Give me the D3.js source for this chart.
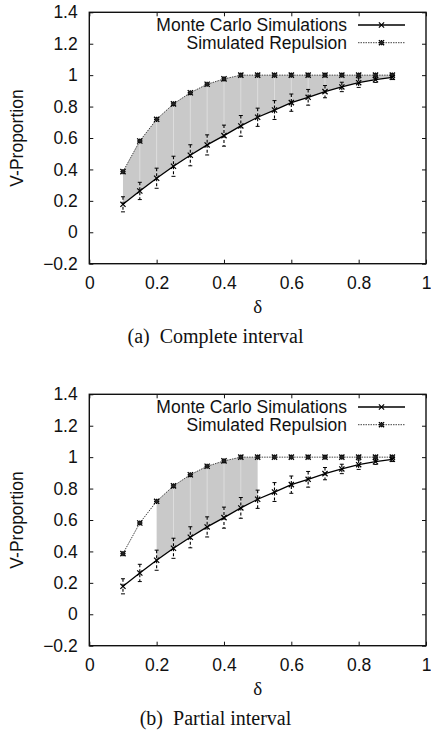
<!DOCTYPE html>
<html>
<head>
<meta charset="utf-8">
<script src="https://cdn.jsdelivr.net/npm/d3@7"></script>
<style>
  body { margin: 0; background: #fff; }
  svg { display: block; }
  .tick text { font-family: "Liberation Sans", Arial, sans-serif; font-size: 17.5px; fill: #111; }
</style>
</head>
<body>
<div id="chart"></div>
<script>
// data
var delta = [0.1, 0.15, 0.2, 0.25, 0.3, 0.35, 0.4, 0.45, 0.5, 0.55, 0.6, 0.65, 0.7, 0.75, 0.8, 0.85, 0.9];
var monteCarlo = [0.178, 0.263, 0.344, 0.42, 0.49, 0.556, 0.615, 0.677, 0.732, 0.778, 0.825, 0.859, 0.895, 0.925, 0.952, 0.971, 0.986];
var monteCarloErr = [0.048, 0.055, 0.064, 0.064, 0.067, 0.064, 0.067, 0.066, 0.058, 0.06, 0.055, 0.05, 0.039, 0.03, 0.03, 0.017, 0.014];
var repulsion = [0.386, 0.581, 0.719, 0.817, 0.888, 0.942, 0.976, 1, 1, 1, 1, 1, 1, 1, 1, 1, 1];
var xTicks = [0, 0.2, 0.4, 0.6, 0.8, 1];
var yTicks = [-0.2, 0, 0.2, 0.4, 0.6, 0.8, 1, 1.2, 1.4];
var seriesNames = ["Monte Carlo Simulations", "Simulated Repulsion"];
var panels = [
    {top: 12.3, caption: "(a)\u2002Complete interval", from: 0.1, to: 0.9},
    {top: 394.3, caption: "(b)\u2002Partial interval", from: 0.2, to: 0.5}
];

var width = 431, height = 743;
var plotLeft = 89.3, plotRight = 426, plotH = 251.4;
var sans = "'Liberation Sans', Arial, sans-serif";
var serif = "'Liberation Serif', 'Times New Roman', serif";

var svg = d3.select("#chart").append("svg")
    .attr("width", width)
    .attr("height", height);

var data = delta.map(function(d, i) {
    return {x: d, mc: monteCarlo[i], err: monteCarloErr[i], rep: repulsion[i]};
});

function crossMark(g, size) {
    g.append("path")
        .attr("d", "M" + (-size) + "," + (-size) + "L" + size + "," + size +
                   "M" + (-size) + "," + size + "L" + size + "," + (-size))
        .attr("stroke", "#000").attr("stroke-width", 1.2).attr("fill", "none");
}
function starMark(g, size) {
    g.append("path")
        .attr("d", "M" + (-size) + "," + (-size) + "L" + size + "," + size +
                   "M" + (-size) + "," + size + "L" + size + "," + (-size) +
                   "M" + (-size) + ",0H" + size + "M0," + (-size) + "V" + size)
        .attr("stroke", "#000").attr("stroke-width", 1.3).attr("fill", "none");
    g.append("rect").attr("x", -size * 0.6).attr("y", -size * 0.6)
        .attr("width", size * 1.2).attr("height", size * 1.2).attr("fill", "#222");
}

function drawPanel(p) {
    var g = svg.append("g");
    var bottom = p.top + plotH;

    var x = d3.scaleLinear().domain([0, 1]).range([plotLeft, plotRight]);
    var y = d3.scaleLinear().domain([-0.2, 1.4]).range([bottom, p.top]);

    // shaded region between the two curves
    var inside = data.filter(function(d) { return d.x >= p.from - 1e-9 && d.x <= p.to + 1e-9; });
    var area = d3.area()
        .x(function(d) { return x(d.x); })
        .y0(function(d) { return y(d.mc); })
        .y1(function(d) { return y(d.rep); });
    g.append("path").datum(inside)
        .attr("d", area)
        .attr("fill", "#c9c9c9");
    g.selectAll(".seam").data(inside.slice(1, -1)).enter().append("line")
        .attr("x1", function(d) { return x(d.x); })
        .attr("x2", function(d) { return x(d.x); })
        .attr("y1", function(d) { return y(d.rep); })
        .attr("y2", function(d) { return y(d.mc); })
        .attr("stroke", "#e2e2e2").attr("stroke-width", 0.8);

    // axes, ticks pointing inwards and mirrored
    var yAxis = d3.axisLeft(y).tickValues(yTicks).tickSizeInner(-4).tickSizeOuter(0).tickPadding(11.6)
        .tickFormat(function(d) { return d3.format("")(+d.toFixed(1)); });
    var xAxis = d3.axisBottom(x).tickValues(xTicks).tickSizeInner(-4).tickSizeOuter(0).tickPadding(12.5)
        .tickFormat(function(d) { return d3.format("")(+d.toFixed(1)); });
    g.append("g").attr("transform", "translate(" + plotLeft + ",0)").call(yAxis)
        .call(function(a) { a.select(".domain").remove(); });
    g.append("g").attr("transform", "translate(0," + bottom + ")").call(xAxis)
        .call(function(a) { a.select(".domain").remove(); });
    g.append("g").attr("transform", "translate(" + plotRight + ",0)")
        .call(d3.axisRight(y).tickValues(yTicks).tickSizeInner(-4).tickSizeOuter(0).tickFormat(""))
        .call(function(a) { a.select(".domain").remove(); });
    g.append("g").attr("transform", "translate(0," + p.top + ")")
        .call(d3.axisTop(x).tickValues(xTicks).tickSizeInner(-4).tickSizeOuter(0).tickFormat(""))
        .call(function(a) { a.select(".domain").remove(); });
    g.selectAll(".tick line").attr("stroke", "#111").attr("stroke-width", 1);

    // error bars
    var eb = g.selectAll(".err").data(data).enter().append("g");
    eb.append("line")
        .attr("x1", function(d) { return x(d.x); })
        .attr("x2", function(d) { return x(d.x); })
        .attr("y1", function(d) { return y(d.mc + d.err); })
        .attr("y2", function(d) { return y(d.mc - d.err); })
        .attr("stroke", "#000").attr("stroke-width", 1.1).attr("stroke-dasharray", "3,2");
    [1, -1].forEach(function(s) {
        eb.append("line")
            .attr("x1", function(d) { return x(d.x) - 2; })
            .attr("x2", function(d) { return x(d.x) + 2; })
            .attr("y1", function(d) { return y(d.mc + s * d.err); })
            .attr("y2", function(d) { return y(d.mc + s * d.err); })
            .attr("stroke", "#000").attr("stroke-width", 1);
    });

    // lines
    var mcLine = d3.line().x(function(d) { return x(d.x); }).y(function(d) { return y(d.mc); });
    var repLine = d3.line().x(function(d) { return x(d.x); }).y(function(d) { return y(d.rep); });
    g.append("path").datum(data).attr("d", repLine)
        .attr("fill", "none").attr("stroke", "#444").attr("stroke-width", 1).attr("stroke-dasharray", "1.5,1");
    g.append("path").datum(data).attr("d", mcLine)
        .attr("fill", "none").attr("stroke", "#000").attr("stroke-width", 1.3);

    // markers
    g.selectAll(".rep").data(data).enter().append("g")
        .attr("transform", function(d) { return "translate(" + x(d.x) + "," + y(d.rep) + ")"; })
        .each(function() { starMark(d3.select(this), 2.6); });
    g.selectAll(".mc").data(data).enter().append("g")
        .attr("transform", function(d) { return "translate(" + x(d.x) + "," + y(d.mc) + ")"; })
        .each(function() { crossMark(d3.select(this), 2.6); });

    // frame
    g.append("rect")
        .attr("x", plotLeft).attr("y", p.top)
        .attr("width", plotRight - plotLeft).attr("height", plotH)
        .attr("fill", "none").attr("stroke", "#111").attr("stroke-width", 1.4);

    // legend
    var legend = g.selectAll(".legend").data(seriesNames).enter().append("g")
        .attr("transform", function(d, i) { return "translate(0," + (p.top + 12.7 + i * 17.7) + ")"; });
    legend.append("text")
        .attr("x", 347).attr("dy", "0.35em")
        .attr("text-anchor", "end")
        .attr("font-family", sans).attr("font-size", 17.5).attr("fill", "#111")
        .text(function(d) { return d; });
    legend.append("line")
        .attr("x1", 358).attr("x2", 405)
        .attr("stroke", function(d, i) { return i == 0 ? "#000" : "#444"; })
        .attr("stroke-width", function(d, i) { return i == 0 ? 1.3 : 1; })
        .attr("stroke-dasharray", function(d, i) { return i == 0 ? null : "1.5,1"; });
    legend.each(function(d, i) {
        var m = d3.select(this).append("g").attr("transform", "translate(381.5,0)");
        if (i == 0) crossMark(m, 2.6); else starMark(m, 2.6);
    });

    // axis titles and caption
    g.append("text")
        .attr("transform", "translate(17," + (p.top + plotH / 2) + ") rotate(-90)")
        .attr("text-anchor", "middle").attr("dy", "0.35em")
        .attr("font-family", sans).attr("font-size", 17.5).attr("fill", "#111")
        .text("V-Proportion");
    g.append("text")
        .attr("x", (plotLeft + plotRight) / 2).attr("y", bottom + 49)
        .attr("text-anchor", "middle")
        .attr("font-family", serif).attr("font-size", 19).attr("fill", "#111")
        .text("\u03b4");
    g.append("text")
        .attr("x", width / 2).attr("y", bottom + 79)
        .attr("text-anchor", "middle")
        .attr("font-family", serif).attr("font-size", 20).attr("fill", "#111")
        .text(p.caption);
}

panels.forEach(drawPanel);
</script>
</body>
</html>
